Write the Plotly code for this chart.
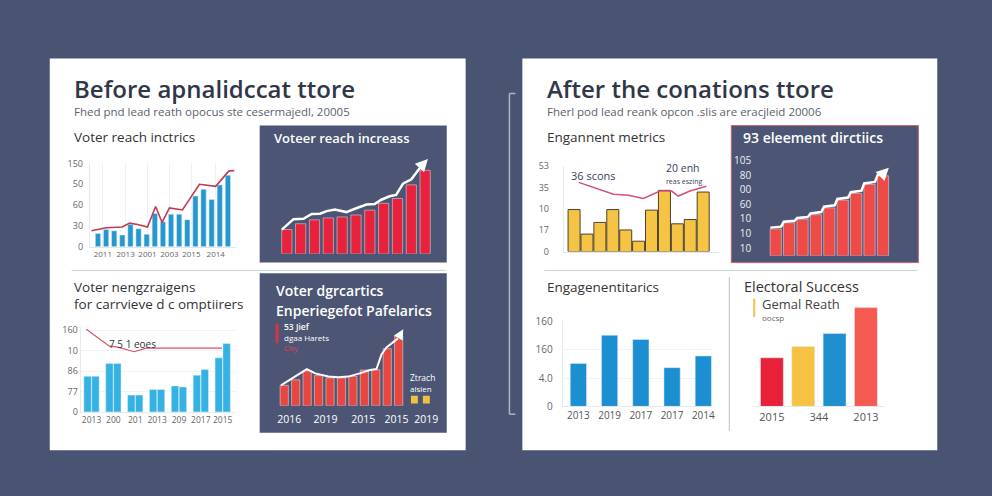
import plotly.graph_objects as go

W, H = 992, 496
BG = "#485472"
DARK = "#4c5674"

# ---------------- data ----------------
c1_x = list(range(17))
c1_bars = [19, 25, 23, 17, 32, 26, 18, 48, 36, 47, 47, 39, 73, 83, 68, 89, 103]
c1_line_x = [-0.8, 1.0, 3.0, 3.9, 4.9, 6.1, 7.1, 7.9, 8.8, 10.4, 12.5, 14.5, 16.1, 16.8]
c1_line_y = [23, 27.5, 28.5, 34, 32, 28.5, 58, 35, 56, 53, 90, 87, 109, 110]
c1_xtick_vals = [0.6, 3.4, 6.1, 8.8, 11.5, 14.5]
c1_xtick_text = ["2011", "2013", "2001", "2003", "2015", "2014"]
c1_ytick_vals = [0, 30, 60, 90, 120]
c1_ytick_text = ["0", "30", "60", "50", "150"]

c2_x = list(range(11))
c2_bars = [25, 31, 35, 37, 38, 40, 45, 52, 57, 71, 86]
c2_line_x = [-0.36, 0.48, 1.2, 1.8, 2.4, 2.88, 3.48, 4.3, 5.16, 5.76, 6.35, 6.83, 7.43, 7.9, 8.4, 9.0, 9.7]
c2_line_y = [25, 35.7, 36, 41, 41.3, 44, 45.7, 43, 47.7, 50.7, 51.3, 55.7, 59.3, 60.7, 72.3, 76.7, 90]
c2_arrow_end = (10.2, 97.7)

c3_x = list(range(7))
c3_bars_a = [70, 95, 33, 44, 51, 72, 106]
c3_bars_b = [70, 95, 33, 44, 49, 83, 134]
c3_line_x = [-0.24, 0.82, 1.2, 1.95, 2.5, 5.97]
c3_line_y = [162, 129, 127, 118, 125, 125]
c3_xtick_text = ["2013", "200", "201", "2013", "209", "2017", "2015"]
c3_ytick_vals = [0, 40, 80, 120, 160]
c3_ytick_text = ["0", "77", "86", "10", "160"]

c4_x = list(range(11))
c4_bars = [21, 26.7, 36, 31, 28.7, 28.7, 30.3, 36.7, 37, 58.7, 71.7]
c4_line_x = [-0.29, 0.52, 1.97, 2.7, 3.86, 4.72, 5.6, 6.6, 7.48, 8.06, 8.5, 8.93, 9.94]
c4_line_y = [21, 26.7, 37.7, 33.3, 30, 29.3, 30, 33.3, 36.7, 37.7, 52.7, 60, 69.3]
c4_arrow_end = (10.4, 78.7)
c4_xtick_vals = [0.43, 3.6, 6.9, 9.8, 12.4]
c4_xtick_text = ["2016", "2019", "2015", "2015", "2019"]

c5_x = list(range(11))
c5_bars = [29.5, 12.3, 20.5, 29.5, 15.2, 7.3, 29.1, 43, 19.5, 22.5, 41.8]
c5_line_x = [0.36, 3.05, 4.22, 5.37, 6.66, 7.56, 8.07, 8.97, 10.25]
c5_line_y = [48.6, 40.2, 39.5, 37.3, 42.5, 42.5, 39, 42.5, 45.9]
c5_ytick_vals = [0, 15, 30, 45, 60]
c5_ytick_text = ["0", "17", "10", "35", "53"]

c6_x = list(range(9))
c6_bars = [27.7, 34, 37.7, 42.3, 49.3, 57.3, 64.3, 73.3, 82.3]
c6_line_x = [-0.4, 0.4, 0.6, 1.4, 1.6, 2.4, 2.6, 3.4, 3.6, 4.4, 4.6, 5.4, 5.6, 6.4, 6.6, 7.4, 7.6, 8.1]
c6_line_y = [29, 30, 35, 36, 39, 40, 43.5, 45, 50.5, 52, 58.5, 60, 65.5, 67, 74.5, 76, 83, 86]
c6_arrow_end = (8.44, 90.7)
c6_ytick_vals = [8, 23, 38, 53, 68, 83, 98]
c6_ytick_text = ["10", "10", "10", "60", "00", "80", "105"]

c7_x = list(range(5))
c7_bars = [81, 134, 126, 73, 95]
c7_xtick_text = ["2013", "2019", "2017", "2017", "2014"]
c7_ytick_vals = [0, 53.3, 106.7, 160]
c7_ytick_text = ["0", "4.0", "160", "160"]

c8_x = list(range(4))
c8_bars = [50, 61.7, 75, 101.7]
c8_colors = ["#e8203a", "#f6c244", "#1f8fd0", "#f45a50"]
c8_xtick_vals = [0, 1.5, 3]
c8_xtick_text = ["2015", "344", "2013"]


# ---------------- helpers ----------------
def xd(x0, x1):
    return [x0 / W, x1 / W]


def yd(y0, y1):
    return [1 - y1 / H, 1 - y0 / H]


def PX(x):
    return x / W


def PY(y):
    return 1 - y / H


FONT = "Open Sans"
fig = go.Figure()
shapes = []
annotations = []


def rect(x0, y0, x1, y1, fill, line=None, lw=0):
    shapes.append(dict(type="rect", xref="paper", yref="paper", x0=PX(x0), x1=PX(x1),
                       y0=PY(y1), y1=PY(y0), fillcolor=fill, layer="below",
                       line=dict(color=line or fill, width=lw)))


def hline(x0, x1, y, color, w=1):
    shapes.append(dict(type="line", xref="paper", yref="paper", x0=PX(x0), x1=PX(x1),
                       y0=PY(y), y1=PY(y), line=dict(color=color, width=w), layer="below"))


def vline(x, y0, y1, color, w=1):
    shapes.append(dict(type="line", xref="paper", yref="paper", x0=PX(x), x1=PX(x),
                       y0=PY(y0), y1=PY(y1), line=dict(color=color, width=w), layer="below"))


def text(x, y, s, size, color, weight=400, anchor="left"):
    annotations.append(dict(xref="paper", yref="paper", x=PX(x), y=PY(y), text=s,
                            showarrow=False, xanchor=anchor, yanchor="middle",
                            font=dict(family=FONT, size=size, color=color, weight=weight)))


# panels
rect(50, 52, 468, 455, "#ffffff")
rect(525, 52, 942, 455, "#ffffff")
rect(261, 121, 449, 262, DARK)
rect(261, 273, 449, 437, DARK)
rect(735, 121, 923, 262, DARK, "#c9606e", 1)
hline(72, 448, 270, "#c9ced6")
hline(547, 922, 270, "#c9ced6")
vline(733, 277, 435, "#b9bec7")
# bracket
vline(512, 88, 418, "#aeb6c4", 1.5)
hline(512, 518, 88, "#aeb6c4", 1.5)
hline(512, 518, 418, "#aeb6c4", 1.5)

# titles
TC = "#2f3748"
text(72, 83, "Before apnalidccat ttore", 24, TC, 600)
text(548, 83, "After the conations ttore", 24, TC, 600)
text(72, 106, "Fhed pnd lead reath opocus ste cesermajedl, 20005", 11.5, "#5a5f6a")
text(548, 106, "Fherl pod lead reank opcon .slis are eracjleid 20006", 11.5, "#5a5f6a")
text(72, 133, "Voter reach inctrics", 13.5, "#333")
text(72, 287, "Voter nengzraigens", 13.5, "#333")
text(72, 305, "for carrvieve d c omptiirers", 13.5, "#333")
text(548, 133, "Engannent metrics", 13.5, "#333")
text(548, 287, "Engagenentitarics", 13.5, "#333")
text(746, 287, "Electoral Success", 14.5, "#333")
text(273, 134, "Voteer reach increass", 13, "#ffffff", 600)
text(275, 291, "Voter dgrcartics", 14, "#ffffff", 600)
text(275, 311, "Enperiegefot Pafelarics", 14, "#ffffff", 600)
text(745, 133, "93 eleement dirctiics", 14, "#ffffff", 600)

# small annotation texts
text(108, 346, "7 5 1 eoes", 10, "#333")
text(572, 172, "36 scons", 11, "#3a4060")
text(667, 165, "20 enh", 10.5, "#3a4060")
text(667, 179, "reas eszing", 7, "#3a4060")
rect(277, 325, 280, 345, "#d23545")
text(283, 328, "53 Jief", 8.5, "#ffffff", 600)
text(283, 339, "dgaa Harets", 8, "#ffffff")
text(283, 350, "Cisy", 7.5, "#e04050")
text(410, 380, "Ztrach", 8.5, "#ffffff")
text(410, 392, "alslen", 8, "#ffffff")
rect(413, 399, 420, 407, "#f0c040")
rect(425, 399, 432, 407, "#f0c040")
rect(757, 299, 759, 318, "#f5c242")
text(764, 305, "Gemal Reath", 13, "#444")
text(764, 319, "oocsp", 8, "#666")

TICK = dict(family=FONT, size=9, color="#666")


def axes(n, xdom, xr, ydom, yr, **kw):
    sfx = "" if n == 1 else str(n)
    xa = dict(domain=xd(*xdom), range=xr, anchor="y" + sfx, showgrid=False, zeroline=False,
              showticklabels=False, fixedrange=True, tickangle=0)
    ya = dict(domain=yd(*ydom), range=yr, anchor="x" + sfx, showgrid=False, zeroline=False,
              showticklabels=False, fixedrange=True)
    xa.update(kw.get("x", {}))
    ya.update(kw.get("y", {}))
    return {"xaxis" + sfx: xa, "yaxis" + sfx: ya}


layout_axes = {}

# chart 1
fig.add_bar(x=c1_x, y=c1_bars, width=0.65, marker=dict(color="#2698d0"), xaxis="x", yaxis="y")
fig.add_scatter(x=c1_line_x, y=c1_line_y, mode="lines", line=dict(color="#c03a50", width=1.6), xaxis="x", yaxis="y")
layout_axes.update(axes(1, (90.3, 237.2), [-1, 17], (160, 245.7), [0, 120],
                        x=dict(showticklabels=True, tickvals=c1_xtick_vals, ticktext=c1_xtick_text,
                               tickfont=dict(family=FONT, size=8, color="#666"), showgrid=True,
                               gridcolor="#eef1f5", showline=True, linecolor="#e3e6eb"),
                        y=dict(showticklabels=True, tickvals=c1_ytick_vals, ticktext=c1_ytick_text,
                               tickfont=TICK, showline=True, linecolor="#e6e9ee", ticklabelstandoff=4)))

# chart 2
fig.add_bar(x=c2_x, y=c2_bars, width=0.74, marker=dict(color="#e8213d"), xaxis="x2", yaxis="y2")
fig.add_scatter(x=c2_line_x, y=c2_line_y, mode="lines", line=dict(color="#ffffff", width=2.5), xaxis="x2", yaxis="y2")
annotations.append(dict(xref="x2", yref="y2", axref="x2", ayref="y2", x=c2_arrow_end[0], y=c2_arrow_end[1],
                        ax=c2_line_x[-1], ay=c2_line_y[-1], text="", showarrow=True, arrowhead=2,
                        arrowsize=1, arrowwidth=2.5, arrowcolor="#ffffff"))
layout_axes.update(axes(2, (271.6, 444), [-1.2, 11.2], (153, 253), [0, 100]))

# chart 3
fig.add_bar(x=c3_x, y=c3_bars_a, width=0.34, offset=-0.35, marker=dict(color="#33b2e3"), xaxis="x3", yaxis="y3")
fig.add_bar(x=c3_x, y=c3_bars_b, width=0.34, offset=0.01, marker=dict(color="#33b2e3"), xaxis="x3", yaxis="y3")
fig.add_scatter(x=c3_line_x, y=c3_line_y, mode="lines", line=dict(color="#d45566", width=1.2), xaxis="x3", yaxis="y3")
layout_axes.update(axes(3, (81, 237), [-0.5, 6.6], (328.5, 415.7), [0, 166],
                        x=dict(showticklabels=True, tickvals=c3_x, ticktext=c3_xtick_text,
                               tickfont=dict(family=FONT, size=8.5, color="#666"),
                               showline=True, linecolor="#e6e9ee"),
                        y=dict(showticklabels=True, tickvals=c3_ytick_vals, ticktext=c3_ytick_text,
                               tickfont=TICK, showgrid=True, gridcolor="#f0f2f5",
                               showline=True, linecolor="#e6e9ee")))

# chart 4
fig.add_bar(x=c4_x, y=c4_bars, width=0.72, marker=dict(color="#e8473f"), xaxis="x4", yaxis="y4")
fig.add_scatter(x=c4_line_x, y=c4_line_y, mode="lines", line=dict(color="#ffffff", width=2), xaxis="x4", yaxis="y4")
annotations.append(dict(xref="x4", yref="y4", axref="x4", ayref="y4", x=c4_arrow_end[0], y=c4_arrow_end[1],
                        ax=c4_line_x[-1], ay=c4_line_y[-1], text="", showarrow=True, arrowhead=2,
                        arrowsize=1, arrowwidth=2, arrowcolor="#ffffff"))
layout_axes.update(axes(4, (274.2, 435.2), [-1, 13], (309.3, 409.3), [0, 100],
                        x=dict(showticklabels=True, tickvals=c4_xtick_vals, ticktext=c4_xtick_text,
                               tickfont=dict(family=FONT, size=10.5, color="#ffffff"),
                               ticks="outside", ticklen=4, tickcolor="rgba(0,0,0,0)")))

# chart 5
fig.add_bar(x=c5_x, y=c5_bars, width=0.93, marker=dict(color="#f6c445", line=dict(color="#4a4030", width=1)),
            xaxis="x5", yaxis="y5")
fig.add_scatter(x=c5_line_x, y=c5_line_y, mode="lines", line=dict(color="#d2507a", width=1.5), xaxis="x5", yaxis="y5")
layout_axes.update(axes(5, (566.6, 722.3), [-0.8, 11.2], (162.7, 250.7), [0, 60],
                        x=dict(showline=True, linecolor="#e3e6eb"),
                        y=dict(showticklabels=True, tickvals=c5_ytick_vals, ticktext=c5_ytick_text,
                               tickfont=TICK, showline=True, linecolor="#e6e9ee", ticklabelstandoff=12)))

# chart 6
fig.add_bar(x=c6_x, y=c6_bars, width=0.84, marker=dict(color="#ee4a48"), xaxis="x6", yaxis="y6")
fig.add_scatter(x=c6_line_x, y=c6_line_y, mode="lines", line=dict(color="#ffffff", width=2.5), xaxis="x6", yaxis="y6")
annotations.append(dict(xref="x6", yref="y6", axref="x6", ayref="y6", x=c6_arrow_end[0], y=c6_arrow_end[1],
                        ax=c6_line_x[-1], ay=c6_line_y[-1], text="", showarrow=True, arrowhead=2,
                        arrowsize=1, arrowwidth=2.5, arrowcolor="#ffffff"))
layout_axes.update(axes(6, (758.1, 900.9), [-1.6, 9], (155, 255), [0, 100],
                        y=dict(showticklabels=True, tickvals=c6_ytick_vals, ticktext=c6_ytick_text,
                               tickfont=dict(family=FONT, size=10, color="#eef0f4"), ticklabelstandoff=2)))

# chart 7
fig.add_bar(x=c7_x, y=c7_bars, width=0.52, marker=dict(color="#1b8fd2"), xaxis="x7", yaxis="y7")
layout_axes.update(axes(7, (565.6, 716.3), [-0.5, 4.3], (322.5, 410), [0, 160],
                        x=dict(showticklabels=True, tickvals=c7_x, ticktext=c7_xtick_text,
                               tickfont=dict(family=FONT, size=10, color="#555"),
                               showline=True, linecolor="#e3e6eb"),
                        y=dict(showticklabels=True, tickvals=c7_ytick_vals, ticktext=c7_ytick_text,
                               tickfont=dict(family=FONT, size=10, color="#666"), showgrid=True,
                               gridcolor="#f0f2f5", showline=True, linecolor="#e6e9ee",
                               ticklabelstandoff=7)))

# chart 8
fig.add_bar(x=c8_x, y=c8_bars, width=0.73, marker=dict(color=c8_colors), xaxis="x8", yaxis="y8")
layout_axes.update(axes(8, (756.9, 889.2), [-0.6, 3.6], (290, 410), [0, 120],
                        x=dict(showticklabels=True, tickvals=c8_xtick_vals, ticktext=c8_xtick_text,
                               tickfont=dict(family=FONT, size=11, color="#555"),
                               showline=True, linecolor="#e6e9ee")))

fig.update_layout(
    width=W, height=H, margin=dict(l=0, r=0, t=0, b=0),
    paper_bgcolor=BG, plot_bgcolor="rgba(0,0,0,0)",
    showlegend=False, barmode="overlay", hovermode=False,
    shapes=shapes, annotations=annotations,
    **layout_axes,
)

fig.write_html("out.html")
